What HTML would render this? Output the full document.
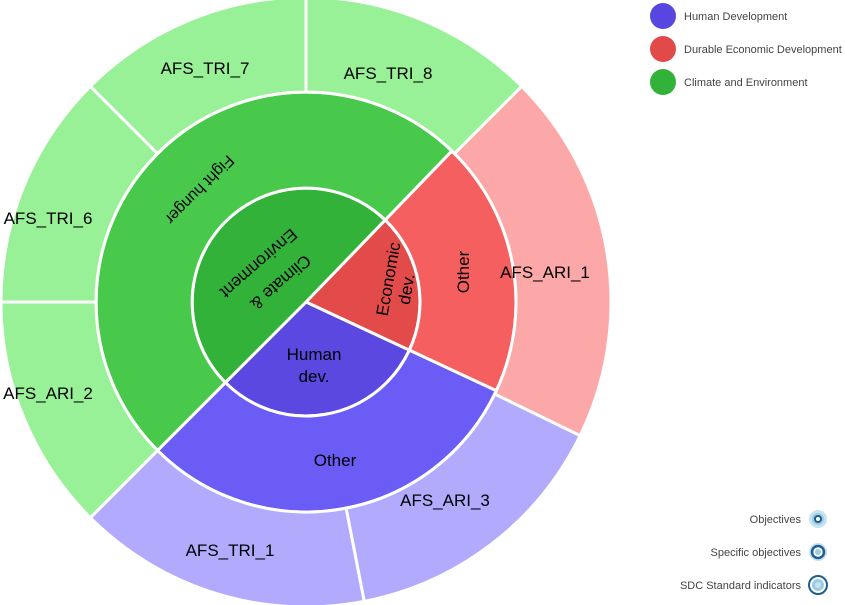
<!DOCTYPE html>
<html><head><meta charset="utf-8"><style>
body{margin:0;background:#fff;width:845px;height:605px;overflow:hidden;font-family:"Liberation Sans",sans-serif}
svg{position:absolute;left:0;top:0}
.l{font-size:17px;fill:#000;font-family:"Liberation Sans",sans-serif}
.g{font-size:11px;fill:#444;font-family:"Liberation Sans",sans-serif}
</style></head><body>
<svg width="845" height="605" id="s">
<g id="arcs" stroke="#fff" stroke-width="3"></g>
<g class="l" text-anchor="middle">
<text x="205" y="74">AFS_TRI_7</text>
<text x="388" y="79">AFS_TRI_8</text>
<text x="48" y="224">AFS_TRI_6</text>
<text x="48" y="399">AFS_ARI_2</text>
<text x="545" y="278">AFS_ARI_1</text>
<text x="445" y="506">AFS_ARI_3</text>
<text x="230" y="556">AFS_TRI_1</text>
<text x="335" y="466">Other</text>
<text transform="translate(469,272) rotate(-90)">Other</text>
<text transform="translate(196,186) rotate(135)" style="font-size:16px">Fight hunger</text>
<text transform="translate(277,278) rotate(139)">Climate &amp;</text>
<text transform="translate(255,259) rotate(139)">Environment</text>
<text transform="translate(394,280) rotate(-80)">Economic</text>
<text transform="translate(412,290) rotate(-80)">dev.</text>
<text x="314" y="360">Human</text>
<text x="314" y="382">dev.</text>
</g>
<circle cx="663" cy="16" r="13" fill="#5747e0"/>
<circle cx="663" cy="49" r="13" fill="#e24a4a"/>
<circle cx="663" cy="82" r="13" fill="#33b23a"/>
<text class="g" x="684" y="20">Human Development</text>
<text class="g" x="684" y="53">Durable Economic Development</text>
<text class="g" x="684" y="86">Climate and Environment</text>
<g class="g" text-anchor="end">
<text x="801" y="523">Objectives</text>
<text x="801" y="556">Specific objectives</text>
<text x="801" y="589">SDC Standard indicators</text>
</g>
<circle cx="818" cy="519" r="9" fill="#c9e2f0"/><circle cx="818" cy="519" r="6" fill="#9ccbe3"/><circle cx="818" cy="519" r="3" fill="#fff" stroke="#1f5f8f" stroke-width="2"/>
<circle cx="818" cy="552" r="9" fill="#c9e2f0"/><circle cx="818" cy="552" r="6" fill="#fff" stroke="#1f5f8f" stroke-width="2.5"/><circle cx="818" cy="552" r="3" fill="#9ccbe3"/>
<circle cx="818" cy="585" r="9" fill="#fff" stroke="#1f5f8f" stroke-width="2"/><circle cx="818" cy="585" r="6" fill="#9ccbe3"/><circle cx="818" cy="585" r="3" fill="#c9e2f0"/>
</svg>
<script>
var cx=306,cy=302;
function P(r,a){a=a*Math.PI/180;return (cx+r*Math.cos(a)).toFixed(2)+","+(cy+r*Math.sin(a)).toFixed(2);}
function arc(r0,r1,a0,a1,c){var lg=(a1-a0)>180?1:0;
var d="M"+P(r1,a0)+"A"+r1+","+r1+" 0 "+lg+" 1 "+P(r1,a1)+"L"+P(r0,a1);
if(r0>0)d+="A"+r0+","+r0+" 0 "+lg+" 0 "+P(r0,a0);d+="Z";
return '<path d="'+d+'" fill="'+c+'"/>';}
var s="";
var R0=114,R1=210,R2=305;
s+=arc(0,R0,-46,25,"#e34b4b");
s+=arc(0,R0,25,135,"#5a48e0");
s+=arc(0,R0,135,314,"#33b23a");
s+=arc(R0,R1,-46,25,"#f55f5f");
s+=arc(R0,R1,25,135,"#6c5cf6");
s+=arc(R0,R1,135,314,"#49c94c");
s+=arc(R1,R2,-45,26,"#fca8a8");
s+=arc(R1,R2,26,79,"#b1aafd");
s+=arc(R1,R2,79,135,"#b1aafd");
s+=arc(R1,R2,135,180,"#98f097");
s+=arc(R1,R2,180,225,"#98f097");
s+=arc(R1,R2,225,270,"#98f097");
s+=arc(R1,R2,270,315,"#98f097");
document.getElementById("arcs").innerHTML=s;
</script>
</body></html>
